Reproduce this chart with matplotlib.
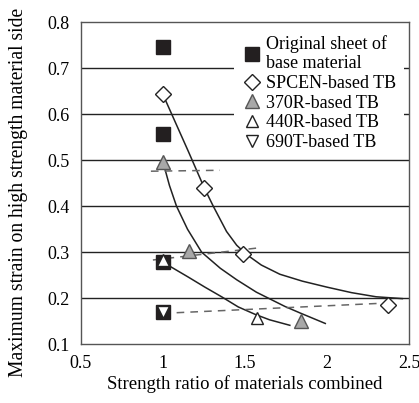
import matplotlib
matplotlib.use('Agg')
import matplotlib.pyplot as plt

plt.rcParams['font.family'] = ['Liberation Serif', 'DejaVu Serif']
plt.rcParams['font.size'] = 13

# measured points
orig_x = [1.0, 1.0, 1.0, 1.0]
orig_y = [0.745, 0.556, 0.279, 0.170]

spcen_x = [1.0, 1.25, 1.49, 2.37]
spcen_y = [0.643, 0.440, 0.297, 0.185]

r370_x = [1.0, 1.16, 1.84]
r370_y = [0.497, 0.302, 0.150]

r440_x = [1.0, 1.575]
r440_y = [0.283, 0.157]

t690_x = [1.0]
t690_y = [0.170]

# fitted curves
curve_spcen_x = [1.0, 1.154, 1.252, 1.307, 1.388, 1.45, 1.51, 1.6, 1.713,
                 1.85, 2.0, 2.15, 2.3, 2.46]
curve_spcen_y = [0.643, 0.52, 0.44, 0.40, 0.345, 0.315, 0.295, 0.272, 0.252,
                 0.237, 0.224, 0.212, 0.203, 0.199]

curve_370_x = [1.0, 1.04, 1.083, 1.15, 1.236, 1.35, 1.45, 1.57, 1.744, 1.835, 1.99]
curve_370_y = [0.497, 0.445, 0.40, 0.35, 0.30, 0.265, 0.24, 0.213, 0.182, 0.168, 0.145]

curve_440_x = [1.0, 1.049, 1.154, 1.256, 1.358, 1.459, 1.561, 1.65, 1.774]
curve_440_y = [0.279, 0.268, 0.246, 0.224, 0.203, 0.181, 0.165, 0.153, 0.141]

# dashed trend lines
dash1_x = [0.927, 1.348]
dash1_y = [0.476, 0.478]
dash2_x = [0.939, 1.60]
dash2_y = [0.283, 0.310]
dash3_x = [1.0, 2.34]
dash3_y = [0.167, 0.189]

fig = plt.figure(figsize=(4.19, 4.03), dpi=100)
ax = fig.add_axes([0.193, 0.146, 0.783, 0.799])

for v in [0.2, 0.3, 0.4, 0.5, 0.6, 0.7]:
    ax.axhline(v, color='#222222', lw=1.0, zorder=1)

ax.plot(curve_spcen_x, curve_spcen_y, color='#222222', lw=1.1, zorder=2)
ax.plot(curve_370_x, curve_370_y, color='#222222', lw=1.1, zorder=2)
ax.plot(curve_440_x, curve_440_y, color='#222222', lw=1.1, zorder=2)

for dx, dy in [(dash1_x, dash1_y), (dash2_x, dash2_y), (dash3_x, dash3_y)]:
    ax.plot(dx, dy, color='#666666', lw=1.1, ls=(0, (5, 4)), zorder=2)

ax.plot(orig_x, orig_y, 's', color='#231f20', ms=10, zorder=4,
        label='Original sheet of\nbase material')
ax.plot(spcen_x, spcen_y, 'D', mfc='white', mec='#222222', mew=1.0, ms=8, zorder=5,
        label='SPCEN-based TB')
ax.plot(r370_x, r370_y, '^', mfc='#a8a8a8', mec='#555555', mew=1.0, ms=10, zorder=5,
        label='370R-based TB')
ax.plot(r440_x, r440_y, '^', mfc='white', mec='#222222', mew=1.0, ms=9, zorder=5,
        label='440R-based TB')
ax.plot(t690_x, t690_y, 'v', mfc='white', mec='#222222', mew=1.0, ms=9, zorder=5,
        label='690T-based TB')

ax.set_xlim(0.5, 2.5)
ax.set_ylim(0.1, 0.8)
ax.set_xticks([0.5, 1, 1.5, 2, 2.5])
ax.set_xticklabels(['0.5', '1', '1.5', '2', '2.5'])
ax.set_yticks([0.1, 0.2, 0.3, 0.4, 0.5, 0.6, 0.7, 0.8])
ax.tick_params(length=0, pad=8)
for s in ax.spines.values():
    s.set_color('#555555')
    s.set_linewidth(1.0)

ax.set_xlabel('Strength ratio of materials combined', fontsize=13.5, labelpad=2)
ax.set_ylabel('Maximum strain on high strength material side', fontsize=14.1)
ax.yaxis.set_label_coords(-0.16, 0.47)

leg = ax.legend(loc='upper right', frameon=True, fancybox=False, edgecolor='none',
                facecolor='white', framealpha=1.0, borderaxespad=0.3,
                handletextpad=0.2, labelspacing=0.15, handlelength=1.2,
                borderpad=0.4)
leg.set_zorder(6)

fig.savefig('out.png', dpi=100)
